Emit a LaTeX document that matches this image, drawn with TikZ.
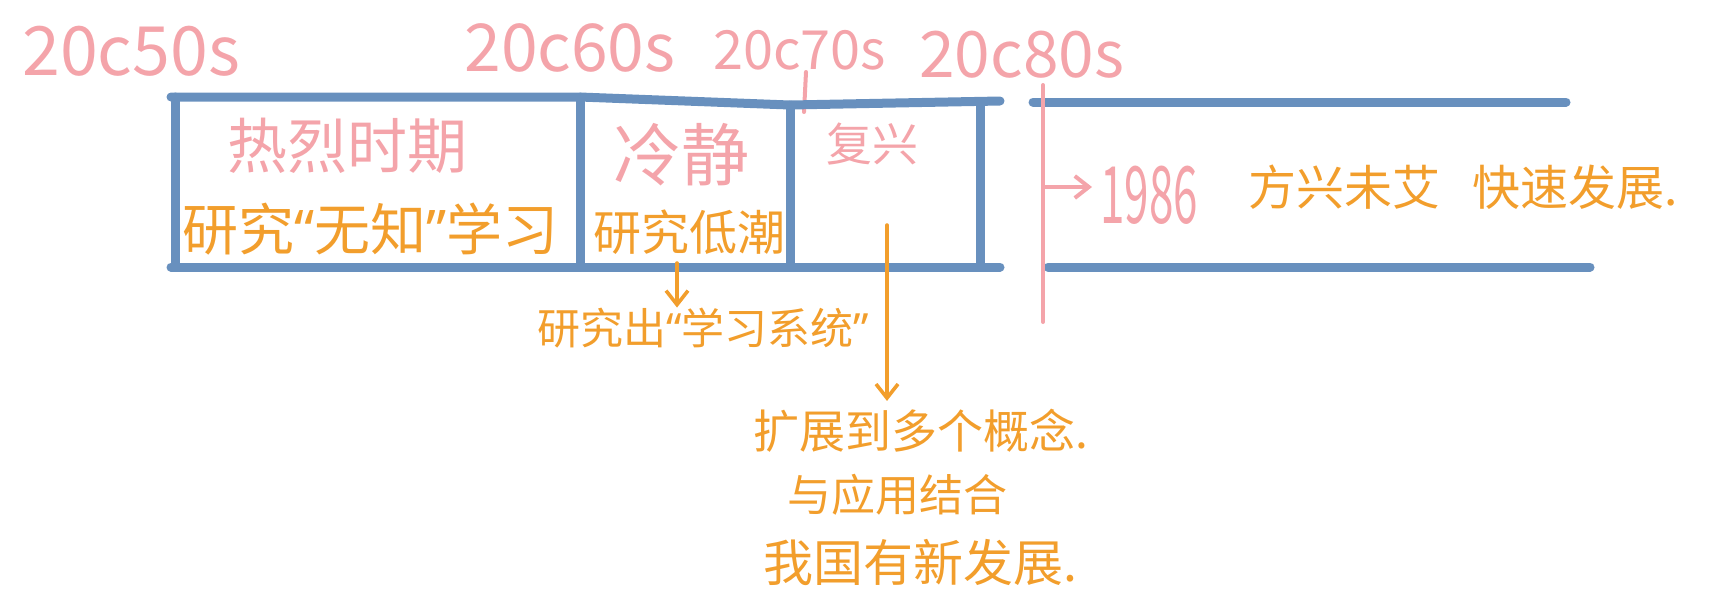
\documentclass[tikz,border=0pt]{standalone}
\usepackage{fontspec}
\newfontfamily\cjk{Noto Sans CJK SC}
\newfontfamily\lat{Noto Sans}
\newcommand{\myLq}{{\lat “}}
\newcommand{\myRq}{{\lat ”}}
\usetikzlibrary{arrows.meta}
\definecolor{tlblue}{RGB}{104,144,190}
\definecolor{tlpink}{RGB}{244,164,170}
\definecolor{tlorange}{RGB}{242,158,44}
\begin{document}
\begin{tikzpicture}[x=0.5pt,y=-0.5pt,
  bar/.style={draw=tlblue,line width=4.5pt,line cap=round,line join=round},
  ptxt/.style={text=tlpink,font=\cjk\fontsize{#1}{#1}\selectfont,inner sep=0pt,anchor=west},
  otxt/.style={text=tlorange,font=\cjk\fontsize{#1}{#1}\selectfont,inner sep=0pt,anchor=west},
  oarrow/.style={draw=tlorange,line width=1.8pt,line cap=round,-{Straight Barb[length=7pt,width=11pt,line width=1.8pt]}},
  parrow/.style={draw=tlpink,line width=2pt,line cap=round,-{Straight Barb[length=7pt,width=11pt,line width=2pt]}}]
\useasboundingbox (0,0) rectangle (1733,602);
% decade labels
\node[ptxt=34pt] (d50) at (22,51) {20c50s};
\node[ptxt=33pt] (d60) at (464,48) {20c60s};
\node[ptxt=27pt] (d70) at (713,50) {20c70s};
\node[ptxt=32pt] (d80) at (919,55) {20c80s};
\draw[tlpink,line width=2pt,line cap=round] (806,72) -- (804,112);
% blue frame
\coordinate (tA) at (171,97);
\coordinate (tB) at (580,97);
\coordinate (tC) at (790,105);
\coordinate (tD) at (1000,101);
\coordinate (bA) at (171,267);
\coordinate (bD) at (1000,267);
\draw[bar] (tA) -- (tB) -- (tC) -- (tD);
\draw[bar] (bA) -- (bD);
\draw[bar] (175,97) -- (175,267);
\draw[bar] (tB) -- (580,267);
\draw[bar] (tC) -- (790,267);
\draw[bar] (980,102) -- (980,267);
\draw[bar] (1033,102) -- (1566,102);
\draw[bar] (1048,267) -- (1590,267);
% pink divider
\coordinate (pTop) at (1043,85);
\coordinate (pBot) at (1043,322);
\coordinate (pMid) at (1043,187);
\draw[tlpink,line width=2pt,line cap=round] (pTop) -- (pBot);
% period texts
\node[ptxt=30pt] (hot) at (227,146) {热烈时期};
\node[otxt=28pt] (hotr) at (182,229) {研究\myLq 无知\myRq 学习};
\node[ptxt=34pt] (calm) at (613,155) {冷静};
\node[otxt=24pt] (calmr) at (593,232) {研究低潮};
\node[ptxt=23pt] (rev) at (826,144) {复兴};
\node[otxt=21.5pt] (sys) at (537,328) {研究出\myLq 学习系统\myRq};
\node[otxt=23pt] (ext1) at (753,431) {扩展到多个概念.};
\node[otxt=22pt] (ext2) at (787,495) {与应用结合};
\node[otxt=25pt] (ext3) at (763,562) {我国有新发展.};
\node[ptxt=22pt] (y86) at (1100,195) {\scalebox{1}[1.8]{1986}};
\node[otxt=24pt] (fast) at (1248,187) {方兴未艾\hspace{16pt}快速发展.};
% arrows
\coordinate (a1s) at (677,263);
\coordinate (a2s) at (887,225);
\draw[oarrow] (a1s) -- (a1s |- sys.north);
\draw[oarrow] (a2s) -- ([yshift=4pt]a2s |- ext1.north);
\draw[parrow] (pMid) -- ([xshift=-4pt]y86.west |- pMid);
\end{tikzpicture}
\end{document}
